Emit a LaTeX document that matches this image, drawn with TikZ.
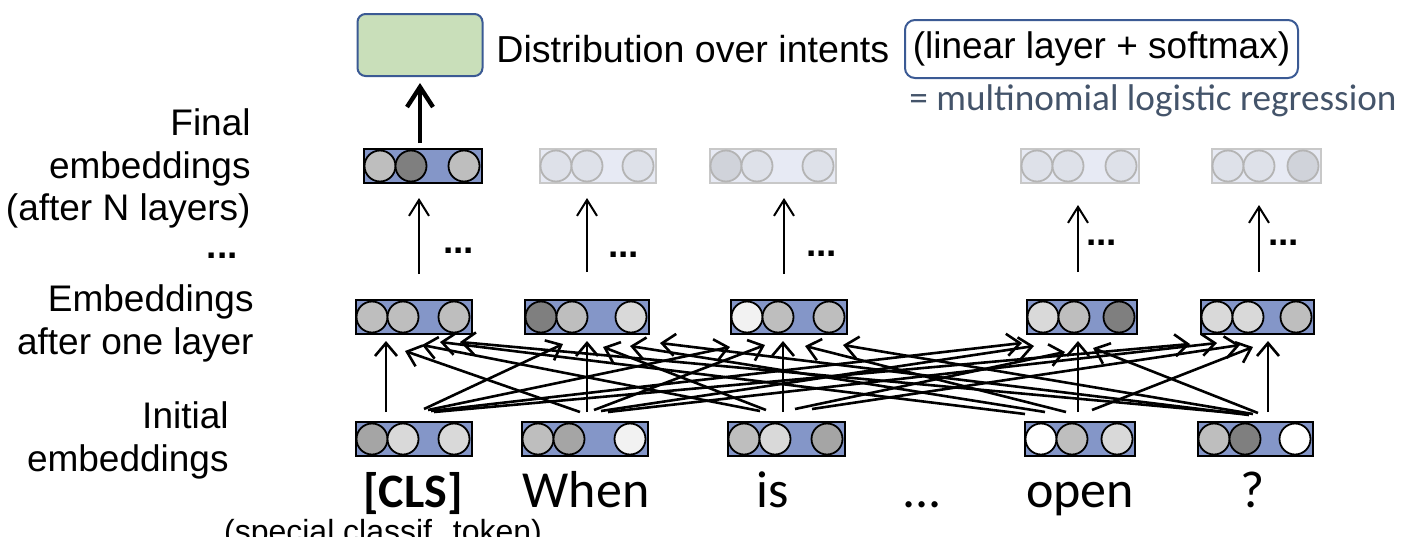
\documentclass[tikz,border=0pt]{standalone}
\usepackage{fontspec}
\setmainfont{Liberation Sans}
\newfontfamily\calfont{Carlito}
\usetikzlibrary{arrows.meta}
\definecolor{vecblue}{HTML}{8496C8}
\definecolor{gA}{HTML}{7F7F7F}
\definecolor{gB}{HTML}{A5A5A5}
\definecolor{gC}{HTML}{BEBEBE}
\definecolor{gD}{HTML}{D9D9D9}
\definecolor{gE}{HTML}{F2F2F2}
\definecolor{gW}{HTML}{FFFFFF}
\definecolor{fadefill}{HTML}{E7EAF4}
\definecolor{fadeline}{HTML}{C8C8C8}
\definecolor{fadecircline}{HTML}{B4B4B4}
\definecolor{fL}{HTML}{DEE1E9}
\definecolor{fM}{HTML}{D0D3DA}
\definecolor{greenfill}{HTML}{C9DFBA}
\definecolor{boxblue}{HTML}{3B5A94}
\definecolor{notegray}{HTML}{44546A}
\newcommand\embbox[8]{%
  \node[#8box, minimum width={(#3-#2)*0.5pt}] (#1) at ({(#2+#3)/2},#4) {};
  \node[#8circ, fill=#5] (#1a) at ({#2+16},#4) {};
  \node[#8circ, fill=#6] (#1b) at ({#2+47},#4) {};
  \node[#8circ, fill=#7] (#1c) at ({#3-18},#4) {};
}
\begin{document}
\begin{tikzpicture}[x=0.5pt,y=-0.5pt,
  normbox/.style={draw=black, line width=1pt, fill=vecblue, inner sep=0pt, outer sep=0pt, minimum height=17pt},
  normcirc/.style={circle, draw=black, line width=0.9pt, inner sep=0pt, outer sep=0pt, minimum size=15.5pt},
  fadebox/.style={draw=fadeline, line width=1pt, fill=fadefill, inner sep=0pt, outer sep=0pt, minimum height=17pt},
  fadecirc/.style={circle, draw=fadecircline, line width=0.9pt, inner sep=0pt, outer sep=0pt, minimum size=15.5pt},
  attn/.style={line width=1.3pt, -{Straight Barb[length=6.5pt,width=11pt]}},
  uparrow/.style={line width=1pt, -{Straight Barb[length=8pt,width=10pt]}},
  bigarrow/.style={line width=2.2pt, -{Straight Barb[length=10pt,width=13pt]}},
  lab/.style={inner sep=0pt, font=\fontsize{18.5pt}{22pt}\selectfont},
  tok/.style={inner sep=0pt, font=\calfont\fontsize{26pt}{30pt}\selectfont},
  dotlab/.style={inner sep=0pt, font=\bfseries\fontsize{18.5pt}{22pt}\selectfont}
]
\useasboundingbox (0,0) rectangle (1408,536);
\clip (0,0) rectangle (1408,536);

% top: output box and texts
\node[draw=boxblue, line width=1pt, fill=greenfill, rounded corners=4pt,
      minimum width=62.5pt, minimum height=31pt, inner sep=0pt] (dist) at (420,45) {};
\node[inner sep=0pt, anchor=base west, font=\fontsize{18.8pt}{22pt}\selectfont] (distlab) at (496,62) {Distribution over intents};
\node[lab, draw=boxblue, line width=1pt, rounded corners=5pt, fill=white,
      minimum width=196.5pt, minimum height=29pt] (lin) at (1101.5,49) {(linear layer + softmax)};
\node[inner sep=0pt, anchor=base west, text=notegray, font=\calfont\fontsize{18.6pt}{22pt}\selectfont]
      (mlr) at (909,110) {= multinomial logistic regression};

% left labels
\node[lab, anchor=base east] (l1) at (251,135) {Final};
\node[lab, anchor=base east] (l2) at (251,178) {embeddings};
\node[lab, anchor=base east] (l3) at (251,220) {(after N layers)};
\node[dotlab, anchor=base east] (l4) at (238,258) {...};
\node[lab, anchor=base east] (l5) at (254,311) {Embeddings};
\node[lab, anchor=base east] (l6) at (254,354) {after one layer};
\node[lab, anchor=base east] (l7) at (229,428) {Initial};
\node[lab, anchor=base east] (l8) at (229,471) {embeddings};

% final row
\embbox{f1}{364}{482}{166}{gC}{gA}{gC}{norm}
\embbox{f2}{540}{656}{166}{fL}{fL}{fL}{fade}
\embbox{f3}{710}{836}{166}{fM}{fL}{fL}{fade}
\embbox{f4}{1021}{1139}{166}{fL}{fL}{fL}{fade}
\embbox{f5}{1212}{1321}{166}{fL}{fL}{fM}{fade}

% middle row
\embbox{m1}{356}{472}{317}{gC}{gC}{gC}{norm}
\embbox{m2}{525}{649}{317}{gA}{gC}{gD}{norm}
\embbox{m3}{731}{847}{317}{gE}{gC}{gC}{norm}
\embbox{m4}{1027}{1137}{317}{gD}{gC}{gA}{norm}
\embbox{m5}{1201}{1314}{317}{gD}{gD}{gC}{norm}

% initial row
\embbox{i1}{356}{472}{439}{gB}{gD}{gD}{norm}
\embbox{i2}{522}{648}{439}{gC}{gB}{gE}{norm}
\embbox{i3}{728}{845}{439}{gC}{gD}{gB}{norm}
\embbox{i4}{1025}{1135}{439}{gW}{gC}{gD}{norm}
\embbox{i5}{1198}{1313}{439}{gC}{gA}{gW}{norm}

% tokens
\node[tok, anchor=base, font=\calfont\bfseries\fontsize{24pt}{28pt}\selectfont] (w1) at (413,507) {[CLS]};
\node[tok, anchor=base] (w2) at (586,507) {When};
\node[tok, anchor=base] (w3) at (773,507) {is};
\node[tok, anchor=base] (w4) at (922,507) {...};
\node[tok, anchor=base] (w5) at (1080,507) {open};
\node[tok, anchor=base] (w6) at (1253,507) {?};
\node[inner sep=0pt, anchor=base, font=\fontsize{16pt}{19pt}\selectfont] (note) at (383,542) {(special classif. token)};

% output arrow
\draw[bigarrow, shorten <=3pt, shorten >=3pt] (f1.north -| 420,0) -- (dist.south -| 420,0);

% middle -> final arrows and dots
\foreach \n/\x/\ya/\yb in {1/419/274/198, 2/587/272/198, 3/784/274/198, 4/1078/272/205, 5/1259/272/205}{
  \coordinate (ua\n) at (\x,\ya);
  \coordinate (ub\n) at (\x,\yb);
  \draw[uparrow] (ua\n) -- (ub\n);
}
\node[dotlab, anchor=base west] (d1) at (443,253) {...};
\node[dotlab, anchor=base west] (d2) at (608,257) {...};
\node[dotlab, anchor=base west] (d3) at (806,256) {...};
\node[dotlab, anchor=base west] (d4) at (1086,245) {...};
\node[dotlab, anchor=base west] (d5) at (1268,245) {...};

% initial -> middle vertical arrows
\foreach \n/\x in {1/386, 2/587, 3/783, 4/1078, 5/1268}{
  \coordinate (va\n) at (\x,412);
  \coordinate (vb\n) at (\x,341);
  \draw[attn] (va\n) -- (vb\n);
}

% attention arrows (from initial token i to layer-one token j)
\foreach \n/\a/\b/\c/\d in {
  12/424/409/563/344, 13/428/410/730/347, 14/431/411/1022/343, 15/434/412/1190/344,
  21/580/412/405/351, 23/594/410/765/345, 24/601/411/1034/346, 25/608/412/1217/343,
  31/760/411/422/345, 32/766/410/603/347, 34/795/409/1065/352, 35/812/409/1240/345,
  41/1025/414/440/342, 42/1045/412/630/346, 43/1066/412/805/346, 45/1092/410/1253/347,
  51/1245/414/460/342, 52/1249/415/660/343, 53/1253/414/843/345, 54/1258/413/1093/348}{
  \coordinate (t\n) at (\a,\b);
  \coordinate (h\n) at (\c,\d);
  \draw[attn] (t\n) -- (h\n);
}
\end{tikzpicture}
\end{document}
